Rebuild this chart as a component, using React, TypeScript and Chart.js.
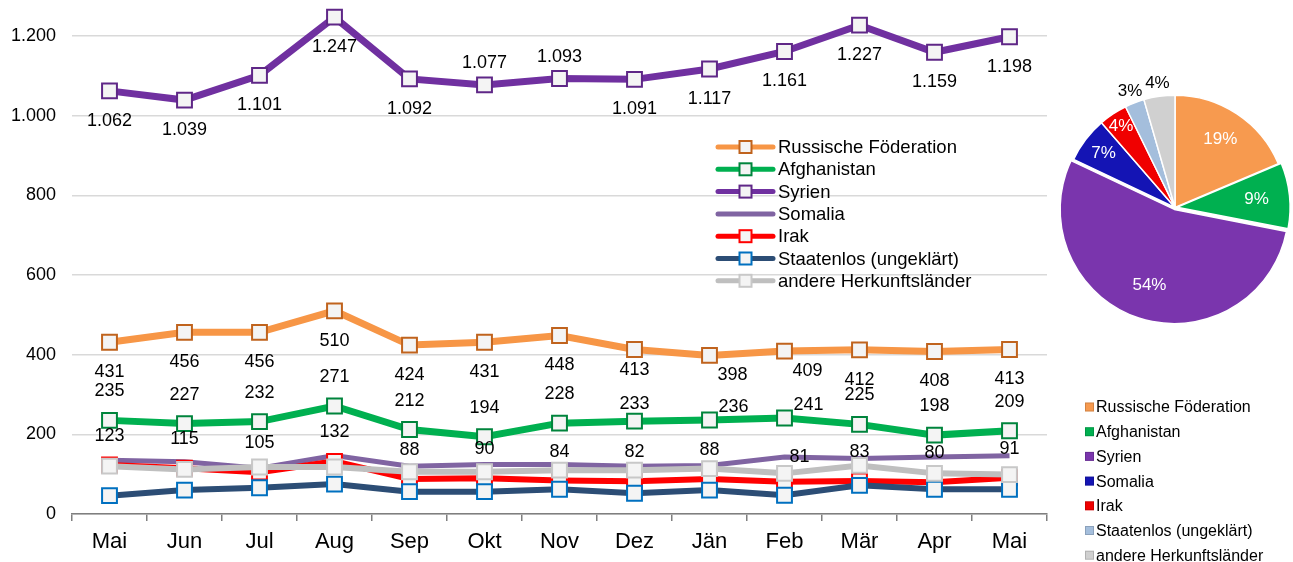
import React, { useEffect, useRef } from 'react';
import { Chart, registerables } from 'chart.js';
Chart.register(...registerables);

const FONT = 'Arial, "Liberation Sans", sans-serif';

const months = ['Mai', 'Jun', 'Jul', 'Aug', 'Sep', 'Okt', 'Nov', 'Dez', 'Jän', 'Feb', 'Mär', 'Apr', 'Mai'];
const seriesNames = [
  'Russische Föderation',
  'Afghanistan',
  'Syrien',
  'Somalia',
  'Irak',
  'Staatenlos (ungeklärt)',
  'andere Herkunftsländer',
];
const russ = [431, 456, 456, 510, 424, 431, 448, 413, 398, 409, 412, 408, 413];
const afg = [235, 227, 232, 271, 212, 194, 228, 233, 236, 241, 225, 198, 209];
const syr = [1062, 1039, 1101, 1247, 1092, 1077, 1093, 1091, 1117, 1161, 1227, 1159, 1198];
const som = [135, 131, 115, 147, 120, 124, 124, 120, 122, 143, 139, 143, 146];
const irak = [123, 115, 105, 132, 88, 90, 84, 82, 88, 81, 83, 80, 91];
const staat = [46, 60, 66, 75, 56, 56, 62, 52, 60, 47, 72, 62, 62];
const andere = [120, 112, 118, 118, 106, 106, 110, 110, 114, 102, 122, 102, 99];
const yTickValues = [0, 200, 400, 600, 800, 1000, 1200];

// label placement codes per point
const russLabelPos = ['b', 'b', 'b', 'b', 'b', 'b', 'b', 'b2', 'rb', 'rb', 'b', 'b', 'b'];
const afgLabelPos = ['a', 'a', 'a', 'a', 'a', 'a', 'a', 'a2', 'ra', 'ra', 'a', 'a', 'a'];
const syrLabelPos = ['b', 'b', 'b', 'b', 'b', 'A', 'A', 'b', 'b', 'b', 'b', 'b', 'b'];
const irakLabelPos = ['a', 'a', 'a', 'a', 'a', 'a', 'a', 'a', 'a', 'ar', 'a', 'a', 'a'];

const seriesValues = [russ, afg, syr, som, irak, staat, andere];
const seriesLabelPos: (string[] | null)[] = [russLabelPos, afgLabelPos, syrLabelPos, null, irakLabelPos, null, null];
const hasMarker = [true, true, true, false, true, true, true];

const lineColors = ['#f79646', '#00b050', '#7030a0', '#8064a2', '#ff0000', '#2c4d75', '#bfbfbf'];
const lineWidths = [7, 7, 7, 5, 6, 6, 6];
const markerBorders = ['#c0631d', '#00843c', '#5f2787', '#8064a2', '#ff0000', '#0070c0', '#c8c8c8'];
const pieColors = ['#f79a4f', '#00b050', '#7a35ad', '#1414b4', '#f00000', '#a4bedc', '#d0d0d0'];
const pieOffsets = [0, 8, 8, 0, 0, 0, 0];
const pieLabelRadius = [0.73, 0.73, 0.73, 0.8, 0.87, 1.11, 1.12];
const pieLabelColors = ['#ffffff', '#ffffff', '#ffffff', '#ffffff', '#ffffff', '#000000', '#000000'];

// pie shows the latest month
const pieValues = seriesValues.map((s) => s[s.length - 1]);

function fmt(v: number): string {
  if (v >= 1000) return Math.floor(v / 1000) + '.' + String(v % 1000).padStart(3, '0');
  return String(v);
}

const labelOffsets: Record<string, [number, number]> = {
  a: [0, -29],
  a2: [0, -17],
  A: [0, -22],
  b: [0, 30],
  b2: [0, 21],
  ra: [24, -13],
  rb: [23, 20],
  ar: [15, -25],
};

const dataLabelPlugin = {
  id: 'dataLabels',
  afterDatasetsDraw(chart: any) {
    const ctx = chart.ctx;
    ctx.save();
    ctx.font = '18px ' + FONT;
    ctx.fillStyle = '#000';
    ctx.textAlign = 'center';
    ctx.textBaseline = 'middle';
    seriesLabelPos.forEach((pos, i) => {
      if (!pos) return;
      const meta = chart.getDatasetMeta(i);
      meta.data.forEach((pt: any, j: number) => {
        const [dx, dy] = labelOffsets[pos[j]];
        ctx.fillText(fmt(seriesValues[i][j]), pt.x + dx, pt.y + dy);
      });
    });
    ctx.restore();
  },
};

const lineLegendPlugin = {
  id: 'lineLegend',
  afterDraw(chart: any) {
    const ctx = chart.ctx;
    const x0 = 718;
    const x1 = 773;
    const top = 147;
    const step = 22.3;
    ctx.save();
    ctx.font = '18.5px ' + FONT;
    ctx.textAlign = 'left';
    ctx.textBaseline = 'middle';
    seriesNames.forEach((name, i) => {
      const y = top + i * step;
      ctx.strokeStyle = lineColors[i];
      ctx.lineWidth = 5;
      ctx.lineCap = 'round';
      ctx.beginPath();
      ctx.moveTo(x0, y);
      ctx.lineTo(x1, y);
      ctx.stroke();
      if (hasMarker[i]) {
        const xm = (x0 + x1) / 2;
        ctx.fillStyle = '#f4f4f4';
        ctx.fillRect(xm - 6, y - 6, 12, 12);
        ctx.strokeStyle = markerBorders[i];
        ctx.lineWidth = 2;
        ctx.strokeRect(xm - 6, y - 6, 12, 12);
      }
      ctx.fillStyle = '#000';
      ctx.fillText(name, x1 + 5, y + 1);
    });
    ctx.restore();
  },
};

const pieLabelPlugin = {
  id: 'pieLabels',
  afterDatasetsDraw(chart: any) {
    const ctx = chart.ctx;
    const meta = chart.getDatasetMeta(0);
    const total = pieValues.reduce((a, b) => a + b, 0);
    ctx.save();
    ctx.font = '17px ' + FONT;
    ctx.textAlign = 'center';
    ctx.textBaseline = 'middle';
    meta.data.forEach((arc: any, i: number) => {
      const p = arc.getProps(['x', 'y', 'startAngle', 'endAngle', 'outerRadius']);
      const mid = (p.startAngle + p.endAngle) / 2;
      const r = p.outerRadius * pieLabelRadius[i];
      ctx.fillStyle = pieLabelColors[i];
      ctx.fillText(Math.round((pieValues[i] / total) * 100) + '%', p.x + Math.cos(mid) * r, p.y + Math.sin(mid) * r);
    });
    ctx.restore();
  },
};

const pieLegendPlugin = {
  id: 'pieLegend',
  afterDraw(chart: any) {
    const ctx = chart.ctx;
    const top = 407;
    const step = 24.7;
    ctx.save();
    ctx.font = '16px ' + FONT;
    ctx.textAlign = 'left';
    ctx.textBaseline = 'middle';
    seriesNames.forEach((name, i) => {
      const y = top + i * step;
      ctx.fillStyle = pieColors[i];
      ctx.fillRect(35, y - 4.5, 9, 9);
      ctx.strokeStyle = 'rgba(0,0,0,0.15)';
      ctx.lineWidth = 1;
      ctx.strokeRect(35.5, y - 4, 8, 8);
      ctx.fillStyle = '#000';
      ctx.fillText(name, 46, y + 1);
    });
    ctx.restore();
  },
};

export default function App() {
  const lineRef = useRef<HTMLCanvasElement>(null);
  const pieRef = useRef<HTMLCanvasElement>(null);

  useEffect(() => {
    Chart.defaults.font.family = FONT;
    const lineChart = new Chart(lineRef.current as HTMLCanvasElement, {
      type: 'line',
      data: {
        labels: months,
        datasets: seriesNames.map((name, i) => ({
          label: name,
          data: seriesValues[i],
          borderColor: lineColors[i],
          backgroundColor: lineColors[i],
          borderWidth: lineWidths[i],
          tension: 0,
          pointStyle: 'rect',
          pointRadius: hasMarker[i] ? 10.5 : 0,
          pointHoverRadius: hasMarker[i] ? 10.5 : 0,
          pointBorderWidth: 2,
          pointBorderColor: markerBorders[i],
          pointBackgroundColor: '#f4f4f4',
          clip: false,
          order: seriesNames.length - 1 - i,
        })),
      },
      options: {
        responsive: false,
        animation: false,
        layout: { autoPadding: false, padding: { top: 16, right: 3, left: 0, bottom: 0 } },
        plugins: { legend: { display: false }, tooltip: { enabled: false } },
        scales: {
          x: {
            offset: true,
            grid: { offset: true, drawOnChartArea: false, tickLength: 7, color: '#7f7f7f', lineWidth: 1.5 },
            border: { color: '#7f7f7f', width: 1.5 },
            ticks: { font: { size: 22 }, color: '#000', padding: 8, maxRotation: 0 },
            afterFit(scale: any) {
              scale.height = 48;
              scale.paddingLeft = 0;
              scale.paddingRight = 0;
            },
          },
          y: {
            min: 0,
            max: 1250,
            grid: { color: '#d9d9d9', lineWidth: 1.5, drawTicks: false },
            border: { display: false },
            ticks: { stepSize: 200, font: { size: 18 }, color: '#000', padding: 16, callback: (v: any) => fmt(Number(v)) },
            afterBuildTicks(axis: any) {
              axis.ticks = yTickValues.map((v) => ({ value: v }));
            },
            afterFit(scale: any) {
              scale.width = 72;
              scale.paddingTop = 0;
              scale.paddingBottom = 0;
            },
          },
        },
      } as any,
      plugins: [dataLabelPlugin, lineLegendPlugin],
    });

    const pieChart = new Chart(pieRef.current as HTMLCanvasElement, {
      type: 'pie',
      data: {
        labels: seriesNames,
        datasets: [
          {
            data: pieValues,
            backgroundColor: pieColors,
            borderColor: '#ffffff',
            borderWidth: 1.5,
            offset: pieOffsets,
          },
        ],
      },
      options: {
        responsive: false,
        animation: false,
        layout: { padding: { top: 90, bottom: 237, left: 8, right: 1 } },
        plugins: { legend: { display: false }, tooltip: { enabled: false } },
      } as any,
      plugins: [pieLabelPlugin, pieLegendPlugin],
    });

    return () => {
      lineChart.destroy();
      pieChart.destroy();
    };
  }, []);

  return (
    <div style={{ position: 'fixed', left: 0, top: 0, width: 1293, height: 562, background: '#fff', overflow: 'hidden' }}>
      <canvas ref={lineRef} width={1050} height={562} style={{ position: 'absolute', left: 0, top: 0 }} />
      <canvas ref={pieRef} width={243} height={562} style={{ position: 'absolute', left: 1050, top: 0 }} />
    </div>
  );
}
